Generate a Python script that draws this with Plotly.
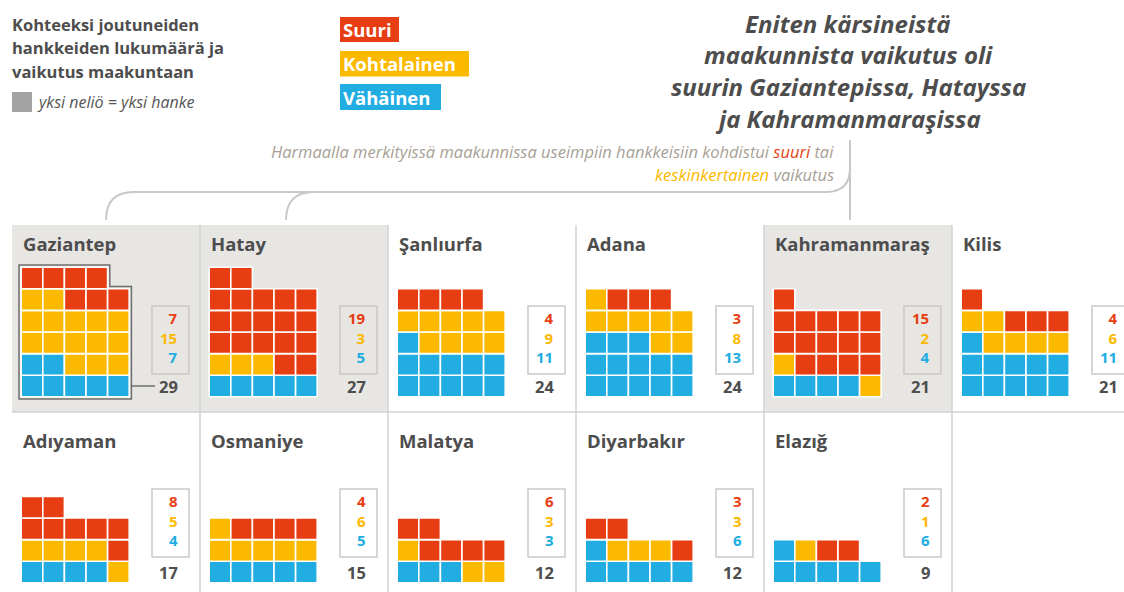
import plotly.graph_objects as go

# ---------------- data ----------------
provinces = ["Gaziantep", "Hatay", "Şanlıurfa", "Adana", "Kahramanmaraş", "Kilis",
             "Adıyaman", "Osmaniye", "Malatya", "Diyarbakır", "Elazığ"]
suuri = [7, 19, 4, 3, 15, 4, 8, 4, 6, 3, 2]
kohtalainen = [15, 3, 9, 8, 2, 6, 5, 6, 3, 3, 1]
vahainen = [7, 5, 11, 13, 4, 11, 4, 5, 3, 6, 6]
highlighted = ["Gaziantep", "Hatay", "Kahramanmaraş"]
outlined = ["Gaziantep"]

legend_labels = ["Suuri", "Kohtalainen", "Vähäinen"]
title_lines = ["Kohteeksi joutuneiden", "hankkeiden lukumäärä ja", "vaikutus maakuntaan"]
unit_note = "yksi neliö = yksi hanke"
headline_lines = ["Eniten kärsineistä", "maakunnista vaikutus oli",
                  "suurin Gaziantepissa, Hatayssa", "ja Kahramanmaraşissa"]

# ---------------- style ----------------
RED, YEL, BLU = "#e63e12", "#fbb900", "#21ade2"
DARK = "#4d4d4d"
PANEL_BG = "#e8e6e3"
SEP = "#d2d2d2"
NOTE = "#a89f96"
FONT = "Open Sans"
W, H = 1124, 592

LEFT, PITCH_X, NCOLS = 12, 188, 6
ROW_TOP = [225, 412]
ROW_BOT = [412, 592]
BOTTOM_CY = [386, 572]
BOX_TOP = [306, 489]
BOX_H = 68
NAME_Y = [243, 440]
SQ = 21.6
PER_ROW = 5

fig = go.Figure()
shapes = []
ann = []

# panel backgrounds & separators
for i, p in enumerate(provinces):
    c, r = i % NCOLS, i // NCOLS
    x0 = LEFT + PITCH_X * c
    if p in highlighted:
        shapes.append(dict(type="rect", x0=x0, x1=x0 + PITCH_X, y0=ROW_TOP[r], y1=ROW_BOT[r],
                           fillcolor=PANEL_BG, line=dict(width=0), layer="below"))
for c in range(1, NCOLS):
    x = LEFT + PITCH_X * c
    shapes.append(dict(type="line", x0=x, x1=x, y0=ROW_TOP[0], y1=ROW_BOT[1],
                       line=dict(color=SEP, width=1.5), layer="below"))
shapes.append(dict(type="line", x0=LEFT, x1=W, y0=ROW_BOT[0], y1=ROW_BOT[0],
                   line=dict(color=SEP, width=1.5), layer="below"))

# squares
cats = [("Vähäinen", vahainen, BLU), ("Kohtalainen", kohtalainen, YEL), ("Suuri", suuri, RED)]
pts = {name: ([], []) for name, _, _ in cats}
for i, p in enumerate(provinces):
    c, r = i % NCOLS, i // NCOLS
    wx = LEFT + PITCH_X * c + 10
    j = 0
    for name, vals, col in cats:
        for _ in range(vals[i]):
            pts[name][0].append(wx + 10 + (j % PER_ROW) * SQ)
            pts[name][1].append(BOTTOM_CY[r] - (j // PER_ROW) * SQ)
            j += 1
for name, vals, col in cats:
    fig.add_trace(go.Scatter(x=pts[name][0], y=pts[name][1], mode="markers", name=name,
                             marker=dict(symbol="square", size=SQ, color=col,
                                         line=dict(color="white", width=1.6)),
                             hoverinfo="skip", showlegend=False))

# number boxes, names, totals
for i, p in enumerate(provinces):
    c, r = i % NCOLS, i // NCOLS
    wx = LEFT + PITCH_X * c + 10
    bx0, bx1 = wx + 130, wx + 167
    shapes.append(dict(type="rect", x0=bx0, x1=bx1, y0=BOX_TOP[r], y1=BOX_TOP[r] + BOX_H,
                       line=dict(color="#c9c9c9", width=1.5), fillcolor="rgba(0,0,0,0)"))
    ann.append(dict(x=wx - 1, y=NAME_Y[r], text=f"<b>{p}</b>", xanchor="left", yanchor="middle",
                    showarrow=False, font=dict(family=FONT, size=18.5, color=DARK)))
    nums = "<br>".join(f"<span style='color:{col}'><b>{val}</b></span>"
                       for val, col in [(suuri[i], RED), (kohtalainen[i], YEL), (vahainen[i], BLU)])
    ann.append(dict(x=bx1 - 9, y=BOX_TOP[r] + BOX_H / 2 - 2.5, text=nums, xanchor="right",
                    yanchor="middle", align="right", showarrow=False,
                    font=dict(family=FONT, size=15, color=DARK)))
    total = suuri[i] + kohtalainen[i] + vahainen[i]
    ann.append(dict(x=bx1 - 9, y=BOTTOM_CY[r], text=f"<b>{total}</b>", xanchor="right",
                    yanchor="middle", showarrow=False, font=dict(family=FONT, size=16.5, color=DARK)))
    if p in outlined:
        pad = 3
        full = total // PER_ROW
        rem = total % PER_ROW
        L = wx - pad
        R = wx + 4 * SQ + 20 + pad
        B = BOTTOM_CY[r] + 10 + pad
        tf = BOTTOM_CY[r] - (full - 1) * SQ - 10 - pad
        if rem:
            tp = BOTTOM_CY[r] - full * SQ - 10 - pad
            sx = wx + (rem - 1) * SQ + 20 + pad
            path = f"M {L},{B} V {tp} H {sx} V {tf} H {R} V {B} Z"
        else:
            path = f"M {L},{B} V {tf} H {R} V {B} Z"
        shapes.append(dict(type="path", path=path, line=dict(color="#6e6e6e", width=1.5)))
        shapes.append(dict(type="line", x0=R, x1=bx0 + 3, y0=BOTTOM_CY[r], y1=BOTTOM_CY[r],
                           line=dict(color="#6e6e6e", width=1.5)))

# top-left title
for k, t in enumerate(title_lines):
    ann.append(dict(x=10, y=24 + k * 23.5, text=f"<b>{t}</b>", xanchor="left", yanchor="middle",
                    showarrow=False, font=dict(family=FONT, size=16.5, color=DARK)))
shapes.append(dict(type="rect", x0=12, x1=32, y0=92, y1=112, fillcolor="#a3a3a3", line=dict(width=0)))
ann.append(dict(x=35, y=102, text=f"<i>{unit_note}</i>", xanchor="left", yanchor="middle",
                showarrow=False, font=dict(family=FONT, size=16, color="#555555")))

# legend boxes
leg = [(legend_labels[0], RED, 17, 42, 399), (legend_labels[1], YEL, 51, 76.5, 469),
       (legend_labels[2], BLU, 84, 110, 441)]
for lab, col, y0, y1, x1 in leg:
    shapes.append(dict(type="rect", x0=340, x1=x1, y0=y0, y1=y1, fillcolor=col, line=dict(width=0)))
    ann.append(dict(x=341, y=(y0 + y1) / 2, text=f"<b>{lab}</b>", xanchor="left", yanchor="middle",
                    showarrow=False, font=dict(family=FONT, size=18.5, color="white")))

# headline
for k, t in enumerate(headline_lines):
    ann.append(dict(x=848, y=23 + k * 31.8, text=f"<b><i>{t}</i></b>", xanchor="center",
                    yanchor="middle", showarrow=False, font=dict(family=FONT, size=24, color=DARK)))

# note
note1 = ("<i>Harmaalla merkityissä maakunnissa useimpiin hankkeisiin kohdistui "
         f"<span style='color:{RED}'>suuri</span> tai</i>")
note2 = f"<i><span style='color:{YEL}'>keskinkertainen</span> vaikutus</i>"
ann.append(dict(x=836, y=151, text=note1, xanchor="right", yanchor="middle", showarrow=False,
                font=dict(family=FONT, size=16.5, color=NOTE)))
ann.append(dict(x=836, y=174, text=note2, xanchor="right", yanchor="middle", showarrow=False,
                font=dict(family=FONT, size=16.5, color=NOTE)))

# bracket lines
BR = "#c8c8c8"
rr = 28
shapes.append(dict(type="path", path=f"M 106,220 V {192 + rr} Q 106,192 {106 + rr},192 H 826 Q 850,192 850,168",
                   line=dict(color=BR, width=2)))
shapes.append(dict(type="path", path=f"M 286,220 V {192 + rr} Q 286,192 {286 + rr},192",
                   line=dict(color=BR, width=2)))
shapes.append(dict(type="line", x0=850, x1=850, y0=140, y1=220, line=dict(color=BR, width=2)))

fig.update_layout(
    width=W, height=H, margin=dict(l=0, r=0, t=0, b=0),
    paper_bgcolor="white", plot_bgcolor="white",
    xaxis=dict(range=[0, W], visible=False, fixedrange=True),
    yaxis=dict(range=[H, 0], visible=False, fixedrange=True),
    shapes=shapes, annotations=ann, showlegend=False,
)

fig.write_html("out.html", config={"displayModeBar": False},
               post_script="document.body.style.margin='0';document.body.style.overflow='hidden';")
